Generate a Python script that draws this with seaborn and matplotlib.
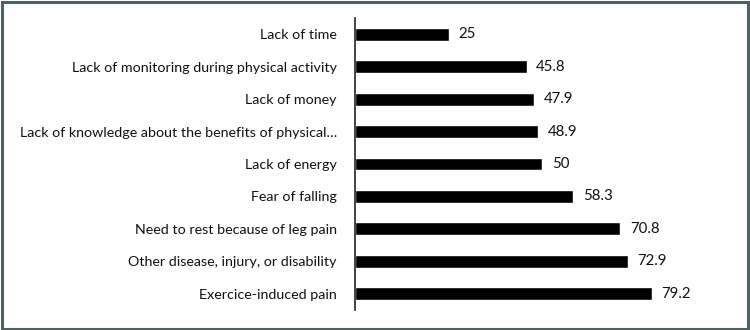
import pandas as pd
import seaborn as sns
import matplotlib.pyplot as plt
from matplotlib.patches import Rectangle

# barriers and their percentages (top to bottom)
barriers = [
    "Lack of time",
    "Lack of monitoring during physical activity",
    "Lack of money",
    "Lack of knowledge about the benefits of physical…",
    "Lack of energy",
    "Fear of falling",
    "Need to rest because of leg pain",
    "Other disease, injury, or disability",
    "Exercice-induced pain",
]
percent = [25, 45.8, 47.9, 48.9, 50, 58.3, 70.8, 72.9, 79.2]
value_labels = ["25", "45.8", "47.9", "48.9", "50", "58.3", "70.8", "72.9", "79.2"]

df = pd.DataFrame({"barrier": barriers, "percent": percent})

sns.set_style("white")
plt.rcParams["font.family"] = ["Lato", "DejaVu Sans"]

fig = plt.figure(figsize=(7.5, 3.3), dpi=100)
ax = fig.add_axes([355 / 750, 20 / 330, 374.5 / 750, 292 / 330])

sns.barplot(data=df, y="barrier", x="percent", color="black", width=0.4,
            saturation=1, orient="h", ax=ax)

ax.set_xlim(0, 100)
ax.set_ylim(8.5, -0.5)
ax.set_xlabel("")
ax.set_ylabel("")
ax.set_xticks([])
ax.tick_params(axis="y", length=0, pad=13, labelsize=10.3, labelcolor="#111111")

for s in ["top", "right", "bottom"]:
    ax.spines[s].set_visible(False)
ax.spines["left"].set_color("#222222")
ax.spines["left"].set_linewidth(1.2)

for i, (v, lab) in enumerate(zip(percent, value_labels)):
    ax.annotate(lab, (v, i), xytext=(7, 0), textcoords="offset points",
                va="center", ha="left", fontsize=10.8, color="#111111")

fig.patches.append(Rectangle((0.002, 0.004), 0.995, 0.99, transform=fig.transFigure,
                             fill=False, edgecolor="#4d6163", linewidth=2.2))

fig.savefig("out.png", dpi=100, facecolor="white")
